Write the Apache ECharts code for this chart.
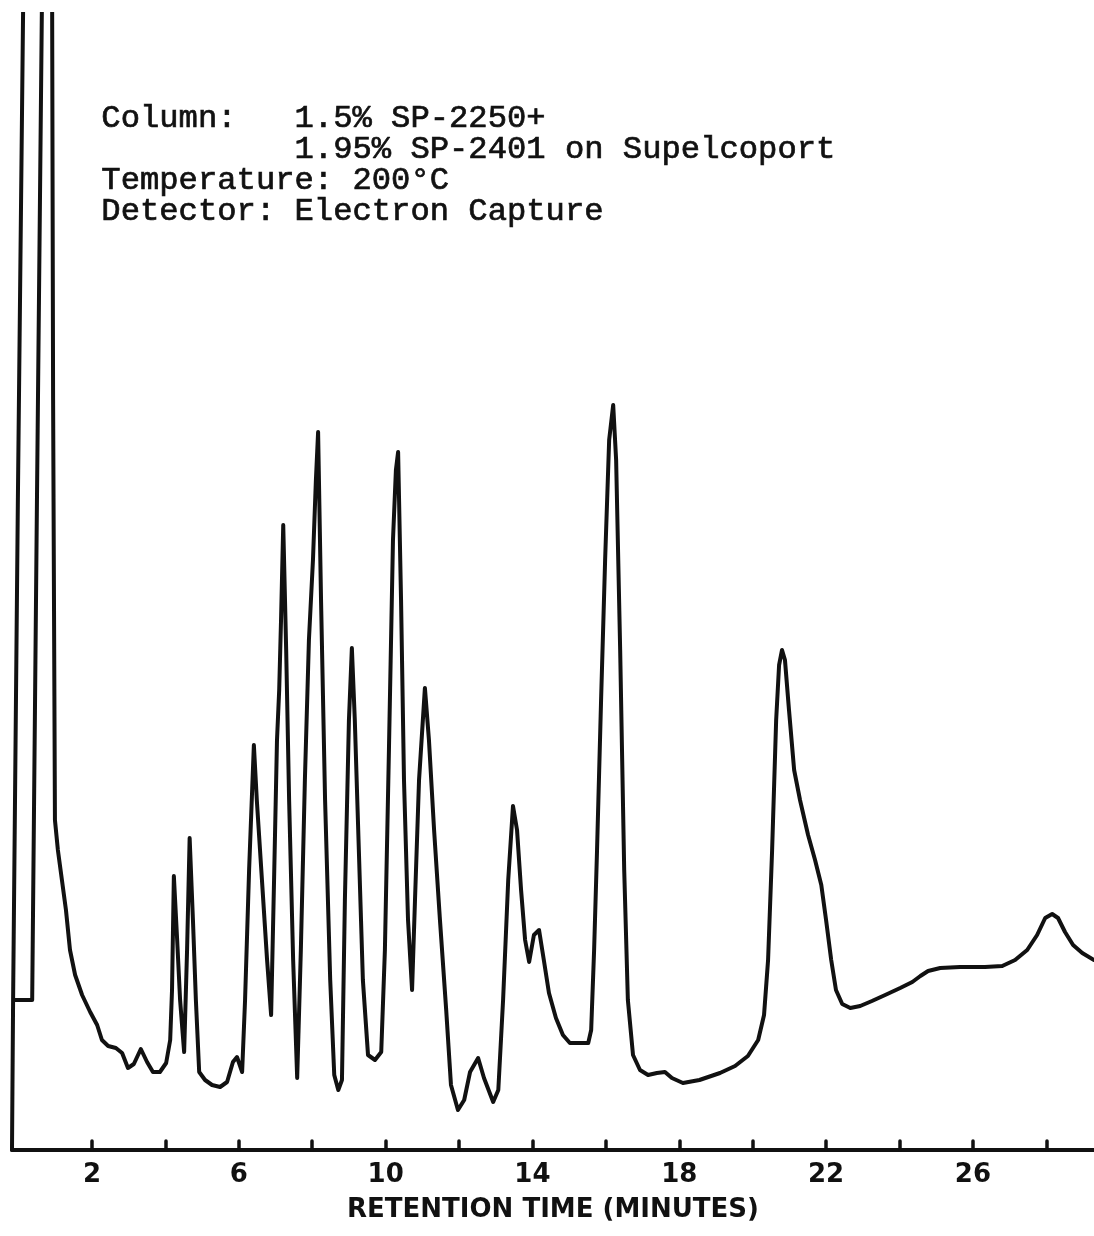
<!DOCTYPE html>
<html>
<head>
<meta charset="utf-8">
<title>Chromatogram</title>
<script src="https://cdn.jsdelivr.net/npm/echarts@6/dist/echarts.min.js"></script>
<style>
  html, body { margin: 0; padding: 0; background: #ffffff; }
  #chart { width: 1094px; height: 1236px; }
</style>
</head>
<body>
<div id="chart"></div>
<script>
// Retention time (minutes) of each recorded point of the detector trace.
// The first points follow the recorder zero line and the off-scale solvent front.
const retentionTime = [
  -0.18, -0.15, -0.02, 0.14, 0.65, 0.50, 0.37, -0.15, 0.37, 0.50, 0.65,
  0.91, 0.94, 0.99, 1.07, 1.18, 1.29, 1.40, 1.54, 1.73, 1.95, 2.14, 2.27, 2.44, 2.65,
  2.82, 2.98, 3.14, 3.33, 3.50, 3.66, 3.85, 4.02, 4.13, 4.18, 4.23, 4.32, 4.40, 4.51,
  4.59, 4.66, 4.75, 4.83, 4.92, 5.08, 5.27, 5.49, 5.68, 5.84, 5.95, 6.09, 6.17, 6.28,
  6.41, 6.49, 6.63, 6.77, 6.88, 6.96, 7.04, 7.10, 7.15, 7.21, 7.29, 7.37, 7.48, 7.59,
  7.69, 7.80, 7.91, 8.02, 8.10, 8.16, 8.24, 8.35, 8.49, 8.60, 8.71, 8.81, 8.89, 9.00,
  9.08, 9.16, 9.27, 9.38, 9.52, 9.71, 9.88, 9.98, 10.09, 10.20, 10.28, 10.34, 10.42,
  10.50, 10.61, 10.72, 10.80, 10.91, 11.07, 11.18, 11.32, 11.48, 11.65, 11.78, 11.97,
  12.14, 12.30, 12.52, 12.68, 12.93, 13.07, 13.20, 13.34, 13.47, 13.58, 13.69, 13.80,
  13.91, 14.04, 14.18, 14.31, 14.45, 14.64, 14.83, 15.02, 15.52, 15.60, 15.68, 15.76,
  15.87, 15.98, 16.09, 16.20, 16.28, 16.39, 16.50, 16.60, 16.74, 16.93, 17.15, 17.39,
  17.61, 17.80, 18.10, 18.55, 19.11, 19.52, 19.87, 20.15, 20.31, 20.42, 20.53, 20.64,
  20.72, 20.80, 20.88, 20.99, 21.13, 21.29, 21.51, 21.70, 21.87, 22.00, 22.14, 22.27,
  22.44, 22.66, 22.93, 23.25, 23.61, 24.02, 24.35, 24.57, 24.78, 25.11, 25.65, 26.33,
  26.80, 27.15, 27.48, 27.75, 27.97, 28.16, 28.32, 28.51, 28.73, 28.98, 29.30
];

// Detector response at each point (chart units).
const response = [
  0, 15, 65, 120, 120, 65, 15, 15, 15, 65, 120,
  120, 75, 33, 30, 27, 24, 20, 17.5, 15.5, 13.8, 12.5, 11, 10.4, 10.2,
  9.7, 8.2, 8.6, 10.1, 8.8, 7.8, 7.8, 8.7, 11, 16, 27.4, 21, 15, 9.8,
  20, 31.2, 23, 15, 7.8, 7, 6.5, 6.3, 6.8, 8.8, 9.3, 7.8, 15, 28,
  40.5, 35, 27, 19, 13.5, 27, 41, 46, 53, 62.5, 50, 35, 19, 7.2,
  20, 37, 51, 59, 67, 71.8, 55, 35, 17, 7.5, 6, 7, 25, 43,
  50.2, 43, 30, 17, 9.5, 9, 9.8, 20, 40, 61, 68, 69.8, 55,
  37, 23, 16, 25, 37, 46.2, 41, 32, 23, 14, 6.5, 4,
  5, 7.8, 9.2, 7.2, 4.8, 6, 15, 27, 34.4, 32, 26, 21,
  18.8, 21.5, 22, 19, 15.7, 13.2, 11.5, 10.7, 10.7, 12, 20, 30,
  45, 59, 71, 74.5, 69, 50, 28, 15, 9.5, 8, 7.5, 7.7,
  7.8, 7.2, 6.7, 7, 7.7, 8.4, 9.4, 11, 13.5, 19, 30, 43,
  48.5, 50, 49, 44, 38, 35, 31.5, 29, 26.5, 23, 19, 16,
  14.6, 14.2, 14.4, 14.9, 15.5, 16.2, 16.8, 17.4, 17.9, 18.2, 18.3, 18.3,
  18.4, 19, 20, 21.5, 23.2, 23.6, 23.2, 21.8, 20.5, 19.7, 19
];

// Axis ticks every 2 minutes, labelled every 4 minutes.
const tickMarks = [2, 4, 6, 8, 10, 12, 14, 16, 18, 20, 22, 24, 26, 28];
const tickLabels = [2, 6, 10, 14, 18, 22, 26];

const conditionsText = [
  'Column:   1.5% SP-2250+',
  '          1.95% SP-2401 on Supelcoport',
  'Temperature: 200\u00B0C',
  'Detector: Electron Capture'
];

const trace = retentionTime.map((t, i) => [t, response[i]]);

const chart = echarts.init(document.getElementById('chart'), null, { renderer: 'canvas' });

chart.setOption({
  animation: false,
  backgroundColor: '#ffffff',
  grid: { left: 12, right: 0, top: 14, bottom: 86, containLabel: false },
  xAxis: {
    type: 'value',
    min: -0.18,
    max: 29.3,
    name: 'RETENTION TIME (MINUTES)',
    nameLocation: 'middle',
    nameGap: 47,
    nameTextStyle: {
      color: '#111',
      fontFamily: 'DejaVu Sans',
      fontWeight: 'bold',
      fontSize: 26
    },
    axisLine: { show: true, lineStyle: { color: '#111', width: 4 } },
    axisTick: {
      show: true,
      inside: true,
      length: 9,
      customValues: tickMarks,
      lineStyle: { color: '#111', width: 3.5, cap: 'round' }
    },
    axisLabel: {
      show: true,
      customValues: tickLabels,
      margin: 12,
      color: '#111',
      fontFamily: 'DejaVu Sans',
      fontWeight: 'bold',
      fontSize: 26
    },
    splitLine: { show: false }
  },
  yAxis: {
    type: 'value',
    min: 0,
    max: 113.6,
    show: false,
    splitLine: { show: false }
  },
  graphic: [
    {
      type: 'text',
      left: 101,
      top: 102,
      style: {
        text: conditionsText.join('\n'),
        font: '32.2px "Liberation Mono", "Courier New", monospace',
        lineHeight: 31,
        fill: '#111',
        stroke: '#111',
        lineWidth: 0.7
      }
    }
  ],
  series: [
    {
      name: 'ECD response',
      type: 'line',
      data: trace,
      showSymbol: false,
      clip: true,
      smooth: false,
      lineStyle: { color: '#111', width: 4, join: 'round', cap: 'round' }
    }
  ]
});
</script>
</body>
</html>
